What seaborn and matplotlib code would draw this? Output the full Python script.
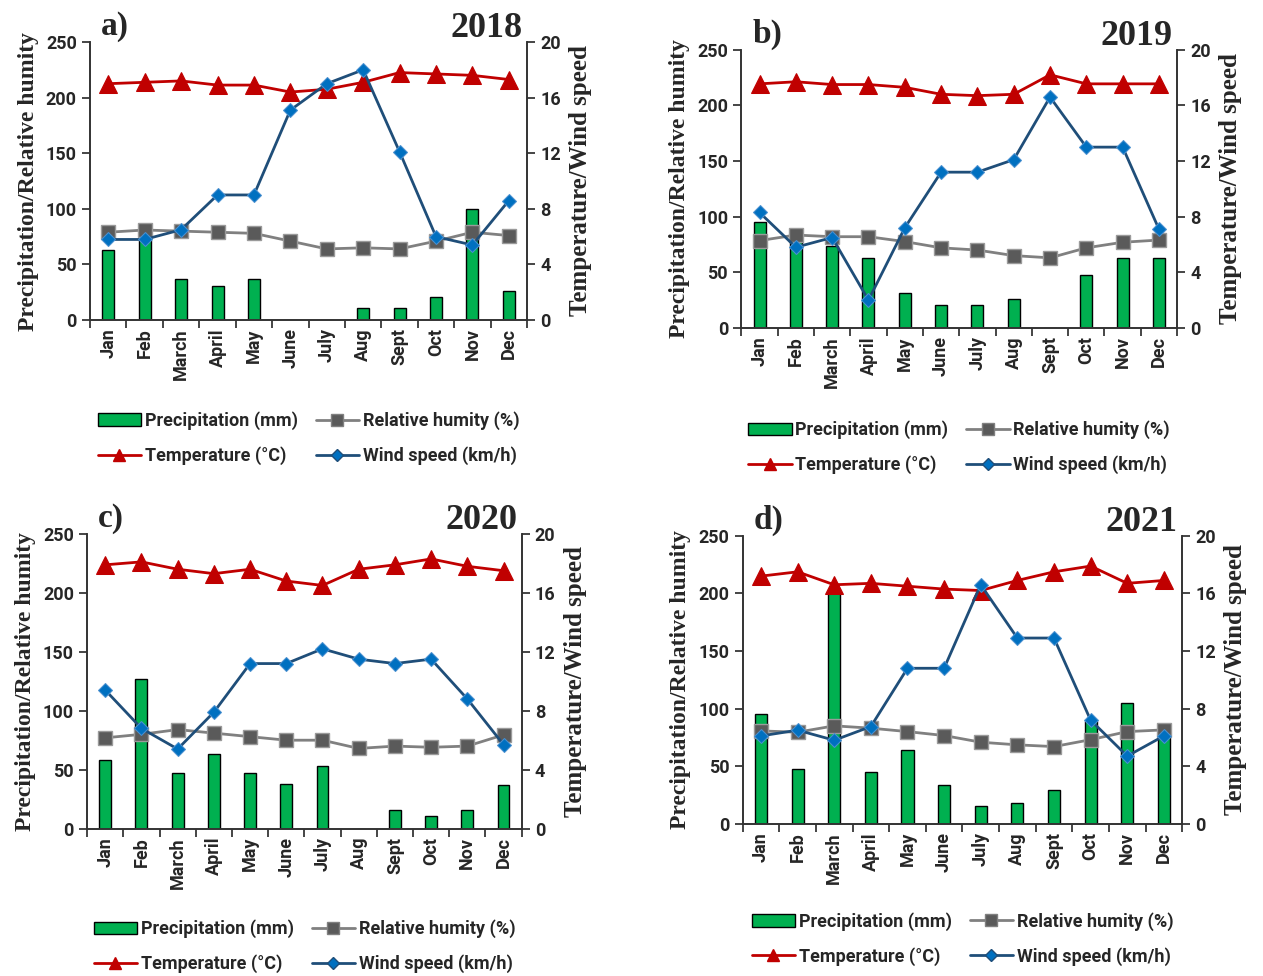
import numpy as np
import pandas as pd
import seaborn as sns
import matplotlib.pyplot as plt
from matplotlib.patches import Patch
from matplotlib.lines import Line2D

sns.set_style("ticks")
plt.rcParams['font.family'] = ['Roboto', 'DejaVu Sans']

months = ['Jan', 'Feb', 'March', 'April', 'May', 'June', 'July', 'Aug', 'Sept', 'Oct', 'Nov', 'Dec']
years = ['2018', '2019', '2020', '2021']
panel_tags = ['a)', 'b)', 'c)', 'd)']

# precipitation (mm), left axis
precip_2018 = [63, 75, 37, 31, 37, 0, 0, 10.5, 10.5, 21, 100, 26]
precip_2019 = [95, 80, 74, 63, 31, 21, 21, 26, 0, 48, 63, 63]
precip_2020 = [58, 127, 47.5, 63.5, 47.5, 37.5, 53, 0, 15.7, 10.6, 15.7, 37]
precip_2021 = [95, 47.7, 200, 45, 64, 34, 15.6, 18, 29, 89, 104.6, 78]

# relative humidity (%), left axis
humid_2018 = [79, 81, 80, 79, 78, 71, 64, 65, 64, 71, 79, 76]
humid_2019 = [78.5, 83.5, 82, 82, 77.6, 72, 70, 65, 63, 72, 77, 79]
humid_2020 = [77, 80, 84, 81, 78, 75, 75, 68, 70, 69, 70, 79.5]
humid_2021 = [80.6, 79.5, 85, 83, 80, 76.6, 70.8, 68.5, 67, 73, 80, 81.5]

# temperature (°C), right axis
temp_2018 = [17.0, 17.1, 17.2, 16.9, 16.9, 16.4, 16.6, 17.1, 17.8, 17.7, 17.6, 17.3]
temp_2019 = [17.55, 17.7, 17.5, 17.5, 17.3, 16.8, 16.7, 16.8, 18.2, 17.55, 17.55, 17.55]
temp_2020 = [17.9, 18.1, 17.6, 17.3, 17.6, 16.8, 16.5, 17.6, 17.9, 18.3, 17.8, 17.5]
temp_2021 = [17.2, 17.5, 16.6, 16.7, 16.5, 16.3, 16.2, 16.9, 17.5, 17.9, 16.7, 16.9]

# wind speed (km/h), right axis
wind_2018 = [5.8, 5.8, 6.5, 9.0, 9.0, 15.1, 17.0, 18.0, 12.1, 6.0, 5.4, 8.6]
wind_2019 = [8.3, 5.8, 6.5, 2.0, 7.2, 11.2, 11.2, 12.1, 16.6, 13.0, 13.0, 7.1]
wind_2020 = [9.4, 6.8, 5.4, 7.9, 11.2, 11.2, 12.2, 11.5, 11.2, 11.5, 8.8, 5.7]
wind_2021 = [6.1, 6.5, 5.8, 6.75, 10.8, 10.8, 16.6, 12.9, 12.9, 7.2, 4.7, 6.1]

precip = [precip_2018, precip_2019, precip_2020, precip_2021]
humid = [humid_2018, humid_2019, humid_2020, humid_2021]
temp = [temp_2018, temp_2019, temp_2020, temp_2021]
wind = [wind_2018, wind_2019, wind_2020, wind_2021]

green = '#00B050'
red = '#C00000'
grey = '#808080'
dgrey = '#5a5a5a'
navy = '#1F4E79'
blue = '#0070C0'

serif = ['Liberation Serif', 'DejaVu Serif']

fig = plt.figure(figsize=(12.63, 9.76), dpi=100)
rects = [[0.0713, 0.672, 0.346, 0.285],
         [0.587, 0.664, 0.345, 0.285],
         [0.069, 0.151, 0.344, 0.302],
         [0.588, 0.156, 0.348, 0.295]]
leg_y = [-0.425, -0.43, -0.40, -0.40]

for i in range(4):
    df = pd.DataFrame({'month': months, 'x': np.arange(12), 'precip': precip[i],
                       'humid': humid[i], 'temp': temp[i], 'wind': wind[i]})
    ax = fig.add_axes(rects[i])
    sns.barplot(data=df, x='month', y='precip', color=green, edgecolor='black',
                linewidth=1, width=0.33, saturation=1, ax=ax, zorder=1)
    sns.lineplot(data=df, x='x', y='humid', color=grey, lw=2, marker='s',
                 markersize=10, markerfacecolor=dgrey, markeredgecolor='#9a9a9a',
                 markeredgewidth=1, ax=ax, zorder=3)
    ax.set_ylim(0, 250)
    ax.set_xlim(-0.5, 11.5)
    ax.set_yticks([0, 50, 100, 150, 200, 250])

    ax2 = ax.twinx()
    sns.lineplot(data=df, x='x', y='temp', color=red, lw=2, marker='^',
                 markersize=13, markeredgecolor=red, ax=ax2, zorder=3)
    sns.lineplot(data=df, x='x', y='wind', color=navy, lw=2, marker='D',
                 markersize=7, markerfacecolor=blue, markeredgecolor='#4a90d0',
                 ax=ax2, zorder=4)
    ax2.set_ylim(0, 20)
    ax2.set_yticks([0, 4, 8, 12, 16, 20])
    ax2.set_xlim(-0.5, 11.5)

    # excel-like category ticks between bars
    ax.set_xticks(np.arange(12))
    ax.set_xticklabels(months, rotation=90, fontsize=13, fontweight='bold')
    ax.set_xticks(np.arange(-0.5, 12, 1), minor=True)
    ax.tick_params(axis='x', which='major', length=0, pad=6)
    ax.tick_params(axis='x', which='minor', length=6, width=1.2, direction='out')
    ax.tick_params(axis='y', length=6, width=1.2, labelsize=13)
    ax2.tick_params(axis='y', length=6, width=1.2, labelsize=13)
    for lab in ax.get_yticklabels() + ax2.get_yticklabels():
        lab.set_fontweight('bold')

    ax.set_xlabel('')
    ax.set_ylabel('Precipitation/Relative humity', family=serif, fontsize=17,
                  fontweight='bold', labelpad=5)
    ax2.set_ylabel('Temperature/Wind speed', family=serif, fontsize=18,
                   fontweight='bold', labelpad=6)

    for a in (ax, ax2):
        a.spines['top'].set_visible(False)
        for s in ('left', 'right', 'bottom'):
            a.spines[s].set_color('#333333')
            a.spines[s].set_linewidth(1.2)

    ax.text(0.025, 1.0, panel_tags[i], transform=ax.transAxes, family=serif,
            fontsize=24, fontweight='bold', ha='left', va='bottom')
    ax.text(0.99, 0.99, years[i], transform=ax.transAxes, family=serif,
            fontsize=26, fontweight='bold', ha='right', va='bottom')

    handles = [Patch(facecolor=green, edgecolor='black', label='Precipitation (mm)'),
               Line2D([], [], color=red, lw=2, marker='^', markersize=9,
                      label='Temperature (°C)'),
               Line2D([], [], color=grey, lw=2, marker='s', markersize=8,
                      markerfacecolor=dgrey, label='Relative humity (%)'),
               Line2D([], [], color=navy, lw=2, marker='D', markersize=6,
                      markerfacecolor=blue, label='Wind speed (km/h)')]
    ax.legend(handles=handles, ncol=2, loc='center', bbox_to_anchor=(0.5, leg_y[i]),
              frameon=False, prop={'weight': 'bold', 'size': 13}, handlelength=2.4,
              handletextpad=0.2, columnspacing=1.0, labelspacing=0.9)

fig.savefig('out.png', dpi=100)
